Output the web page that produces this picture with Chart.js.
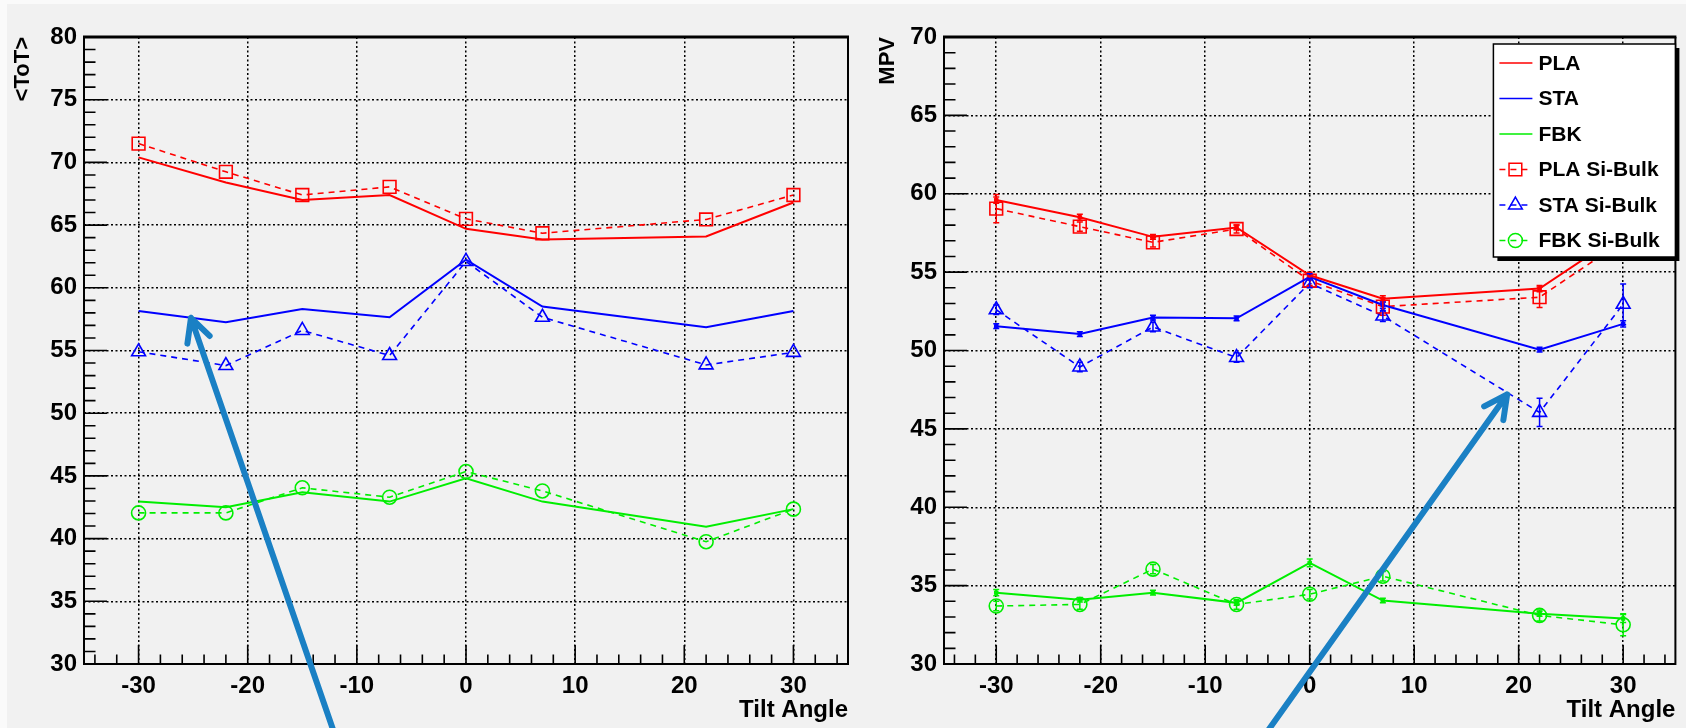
<!DOCTYPE html>
<html>
<head>
<meta charset="utf-8">
<script src="https://cdn.jsdelivr.net/npm/chart.js@4.4.1/dist/chart.umd.min.js"></script>
<style>
html, body { margin: 0; padding: 0; width: 1686px; height: 728px; overflow: hidden; background: #fafafa; }
#bg { position: absolute; left: 7px; top: 4px; right: 0; bottom: 0; background: #f1f1f1; }
canvas { position: absolute; top: 0; }
#totChart { left: 0; }
#mpvChart { left: 860px; }
</style>
</head>
<body>
<div id="bg"></div>
<canvas id="totChart" width="860" height="728"></canvas>
<canvas id="mpvChart" width="826" height="728"></canvas>
<script>
// tilt angles (x) and axis ticks
const angles = [-30, -22, -15, -7, 0, 7, 22, 30];
const xTicks = [-30, -20, -10, 0, 10, 20, 30];

// left plot: <ToT>
const totPLA = [70.4, 68.4, 67.0, 67.4, 64.7, 63.85, 64.1, 66.8];
const totSTA = [58.15, 57.25, 58.3, 57.65, 62.25, 58.5, 56.85, 58.15];
const totFBK = [42.95, 42.5, 43.7, 42.95, 44.8, 42.95, 40.95, 42.35];
const totPLAbulk = [71.5, 69.25, 67.4, 68.05, 65.5, 64.35, 65.45, 67.4];
const totSTAbulk = [54.9, 53.8, 56.6, 54.6, 62.1, 57.65, 53.85, 54.85];
const totFBKbulk = [42.05, 42.05, 44.05, 43.3, 45.35, 43.8, 39.75, 42.35];

// right plot: MPV (with errors)
const mpvPLA = [59.6, 58.5, 57.25, 57.85, 54.8, 53.3, 53.95, 57.5];
const mpvSTA = [51.55, 51.05, 52.1, 52.05, 54.7, 52.9, 50.05, 51.7];
const mpvFBK = [34.55, 34.1, 34.55, 33.9, 36.45, 34.05, 33.2, 32.9];
const mpvPLAbulk = [59.05, 57.9, 56.9, 57.75, 54.45, 52.8, 53.4, 57.0];
const mpvSTAbulk = [52.6, 48.95, 51.5, 49.55, 54.3, 52.2, 46.05, 52.95];
const mpvFBKbulk = [33.7, 33.8, 36.05, 33.8, 34.45, 35.6, 33.1, 32.5];
const mpvPLAerr = [0.2, 0.2, 0.15, 0.15, 0.2, 0.2, 0.2, 0.2];
const mpvSTAerr = [0.15, 0.15, 0.15, 0.15, 0.2, 0.2, 0.15, 0.2];
const mpvFBKerr = [0.2, 0.15, 0.15, 0.15, 0.25, 0.15, 0.15, 0.25];
const mpvPLAbulkErr = [0.9, 0.3, 0.3, 0.25, 0.3, 0.55, 0.65, 0.4];
const mpvSTAbulkErr = [0.3, 0.3, 0.3, 0.3, 0.3, 0.35, 0.9, 1.3];
const mpvFBKbulkErr = [0.3, 0.3, 0.3, 0.3, 0.3, 0.3, 0.35, 0.7];

const labels = ['PLA', 'STA', 'FBK', 'PLA Si-Bulk', 'STA Si-Bulk', 'FBK Si-Bulk'];
const colors = ['#ff0000', '#0000ff', '#00ee00'];

// annotation arrows, in data coordinates [x, y]
const totArrow = { from: [-11.6, 23.3], to: [-25.2, 57.6] };
const mpvArrow = { from: [-4.9, 24.9], to: [18.9, 47.2] };

Chart.defaults.font.family = '"Liberation Sans", Arial, Helvetica, sans-serif';
Chart.defaults.font.weight = 'bold';
Chart.defaults.color = '#000';

const pts = vals => angles.map((a, i) => ({ x: a, y: vals[i] }));

function solid(i, vals, err, marks) {
  return {
    label: labels[i], data: pts(vals), errors: err,
    borderColor: colors[i], borderWidth: 2, tension: 0,
    pointStyle: 'rect', pointRadius: marks ? 2.5 : 0,
    pointBackgroundColor: colors[i], pointBorderColor: colors[i], pointBorderWidth: 1
  };
}
function bulk(i, vals, err, style, r) {
  return {
    label: labels[i + 3], data: pts(vals), errors: err,
    borderColor: colors[i], borderWidth: 1.6, borderDash: [6, 5], tension: 0,
    pointStyle: style, pointRadius: r, pointBorderWidth: 1.6,
    pointBorderColor: colors[i], pointBackgroundColor: 'rgba(0,0,0,0)'
  };
}

function drawArrow(ctx, x, y, arrow) {
  const x1 = x.getPixelForValue(arrow.from[0]), y1 = y.getPixelForValue(arrow.from[1]);
  const x2 = x.getPixelForValue(arrow.to[0]), y2 = y.getPixelForValue(arrow.to[1]);
  const ang = Math.atan2(y1 - y2, x1 - x2), head = 26, spread = 0.47;
  ctx.save();
  ctx.strokeStyle = '#1a80c4';
  ctx.lineWidth = 6;
  ctx.lineCap = 'round';
  ctx.lineJoin = 'round';
  ctx.beginPath();
  ctx.moveTo(x1, y1); ctx.lineTo(x2, y2);
  ctx.moveTo(x2 + head * Math.cos(ang - spread), y2 + head * Math.sin(ang - spread));
  ctx.lineTo(x2, y2);
  ctx.lineTo(x2 + head * Math.cos(ang + spread), y2 + head * Math.sin(ang + spread));
  ctx.stroke();
  ctx.restore();
}

function drawLegend(chart) {
  const { ctx, chartArea: a } = chart;
  const w = 182, h = 213, left = a.right - w, top = a.top + 7;
  ctx.save();
  ctx.fillStyle = '#000';
  ctx.fillRect(left + 4, top + 4, w, h);
  ctx.fillStyle = '#fff';
  ctx.fillRect(left, top, w, h);
  ctx.lineWidth = 1.5;
  ctx.strokeStyle = '#000';
  ctx.strokeRect(left, top, w, h);
  chart.data.datasets.forEach((ds, i) => {
    const cy = top + 19 + i * 35.5;
    ctx.strokeStyle = ds.borderColor;
    ctx.lineWidth = 1.5;
    ctx.setLineDash(ds.borderDash || []);
    ctx.beginPath(); ctx.moveTo(left + 6, cy); ctx.lineTo(left + 39, cy); ctx.stroke();
    ctx.setLineDash([]);
    if (ds.borderDash) {
      ctx.fillStyle = 'rgba(0,0,0,0)';
      Chart.helpers.drawPoint(ctx, { pointStyle: ds.pointStyle, radius: ds.pointRadius, rotation: 0, borderWidth: 1.5 }, left + 22, cy);
    }
    ctx.fillStyle = '#000';
    ctx.font = 'bold 21px "Liberation Sans", Arial, sans-serif';
    ctx.textBaseline = 'middle';
    ctx.textAlign = 'left';
    ctx.fillText(ds.label, left + 45, cy + 1);
  });
  ctx.restore();
}

// ROOT-like frame, inner ticks, error bars, legend box and arrows
const rootStyle = {
  id: 'rootStyle',
  afterDatasetsDraw(chart) {
    const { ctx, scales: { x, y } } = chart;
    ctx.save();
    ctx.lineWidth = 1.5;
    chart.data.datasets.forEach(ds => {
      if (!ds.errors) return;
      ctx.strokeStyle = ds.borderColor;
      ds.data.forEach((p, j) => {
        const e = ds.errors[j];
        const px = x.getPixelForValue(p.x);
        const lo = y.getPixelForValue(p.y - e), hi = y.getPixelForValue(p.y + e);
        ctx.beginPath();
        ctx.moveTo(px, lo); ctx.lineTo(px, hi);
        ctx.moveTo(px - 3, lo); ctx.lineTo(px + 3, lo);
        ctx.moveTo(px - 3, hi); ctx.lineTo(px + 3, hi);
        ctx.stroke();
      });
    });
    ctx.restore();
  },
  afterDraw(chart, args, opts) {
    const { ctx, chartArea: a, scales: { x, y } } = chart;
    ctx.save();
    ctx.strokeStyle = '#000';
    // frame
    ctx.lineWidth = 2;
    ctx.beginPath();
    ctx.moveTo(a.left, a.top); ctx.lineTo(a.left, a.bottom); ctx.lineTo(a.right, a.bottom); ctx.lineTo(a.right, a.top);
    ctx.stroke();
    ctx.lineWidth = 3;
    ctx.beginPath(); ctx.moveTo(a.left - 1, a.top); ctx.lineTo(a.right + 1, a.top); ctx.stroke();
    // ticks inside the frame
    ctx.lineWidth = 1.6;
    ctx.beginPath();
    for (let v = y.min; v <= y.max; v++) {
      const py = y.getPixelForValue(v);
      const len = v % 5 === 0 ? 23 : 11.5;
      ctx.moveTo(a.left, py); ctx.lineTo(a.left + len, py);
    }
    for (let v = -34; v <= 34; v += 2) {
      const px = x.getPixelForValue(v);
      const len = v % 10 === 0 ? 19 : 9.5;
      ctx.moveTo(px, a.bottom); ctx.lineTo(px, a.bottom - len);
    }
    ctx.stroke();
    ctx.restore();
    if (opts.legend) drawLegend(chart);
    if (opts.arrow) drawArrow(ctx, x, y, opts.arrow);
  }
};

function makeOptions(yMin, yMax, yTitle, yTitlePad, padRight, extra) {
  return {
    responsive: false,
    animation: false,
    events: [],
    layout: { padding: { top: 37, right: padRight, left: 0, bottom: 0 } },
    plugins: { legend: { display: false }, tooltip: { enabled: false }, rootStyle: extra },
    scales: {
      x: {
        type: 'linear', min: -35, max: 35,
        afterBuildTicks: s => { s.ticks = xTicks.map(v => ({ value: v })); },
        afterFit: s => { s.height = 64; },
        grid: { color: '#000', lineWidth: 1.5, drawTicks: false },
        border: { display: false, dash: [2, 2.5] },
        ticks: { padding: 8, maxRotation: 0, font: { size: 24, weight: 'bold' } },
        title: { display: true, text: 'Tilt Angle', align: 'end', font: { size: 24, weight: 'bold' }, padding: { top: 0, bottom: 3 } }
      },
      y: {
        type: 'linear', min: yMin, max: yMax,
        afterFit: s => { s.width = 84; },
        grid: { color: '#000', lineWidth: 1.5, drawTicks: false },
        border: { display: false, dash: [2, 2.5] },
        ticks: { stepSize: 5, padding: 7, font: { size: 24, weight: 'bold' } },
        title: { display: true, text: yTitle, align: 'end', font: { size: 22, weight: 'bold' }, padding: { top: yTitlePad, bottom: 0 } }
      }
    }
  };
}

new Chart(document.getElementById('totChart'), {
  type: 'line',
  data: {
    datasets: [
      solid(0, totPLA), solid(1, totSTA), solid(2, totFBK),
      bulk(0, totPLAbulk, null, 'rect', 9), bulk(1, totSTAbulk, null, 'triangle', 8), bulk(2, totFBKbulk, null, 'circle', 7)
    ]
  },
  options: makeOptions(30, 80, '<ToT>', 10, 12, { arrow: totArrow }),
  plugins: [rootStyle]
});

new Chart(document.getElementById('mpvChart'), {
  type: 'line',
  data: {
    datasets: [
      solid(0, mpvPLA, mpvPLAerr, true), solid(1, mpvSTA, mpvSTAerr, true), solid(2, mpvFBK, mpvFBKerr, true),
      bulk(0, mpvPLAbulk, mpvPLAbulkErr, 'rect', 9), bulk(1, mpvSTAbulk, mpvSTAbulkErr, 'triangle', 8), bulk(2, mpvFBKbulk, mpvFBKbulkErr, 'circle', 7)
    ]
  },
  options: makeOptions(30, 70, 'MPV', 15, 3, { legend: true, arrow: mpvArrow }),
  plugins: [rootStyle]
});
</script>
</body>
</html>
